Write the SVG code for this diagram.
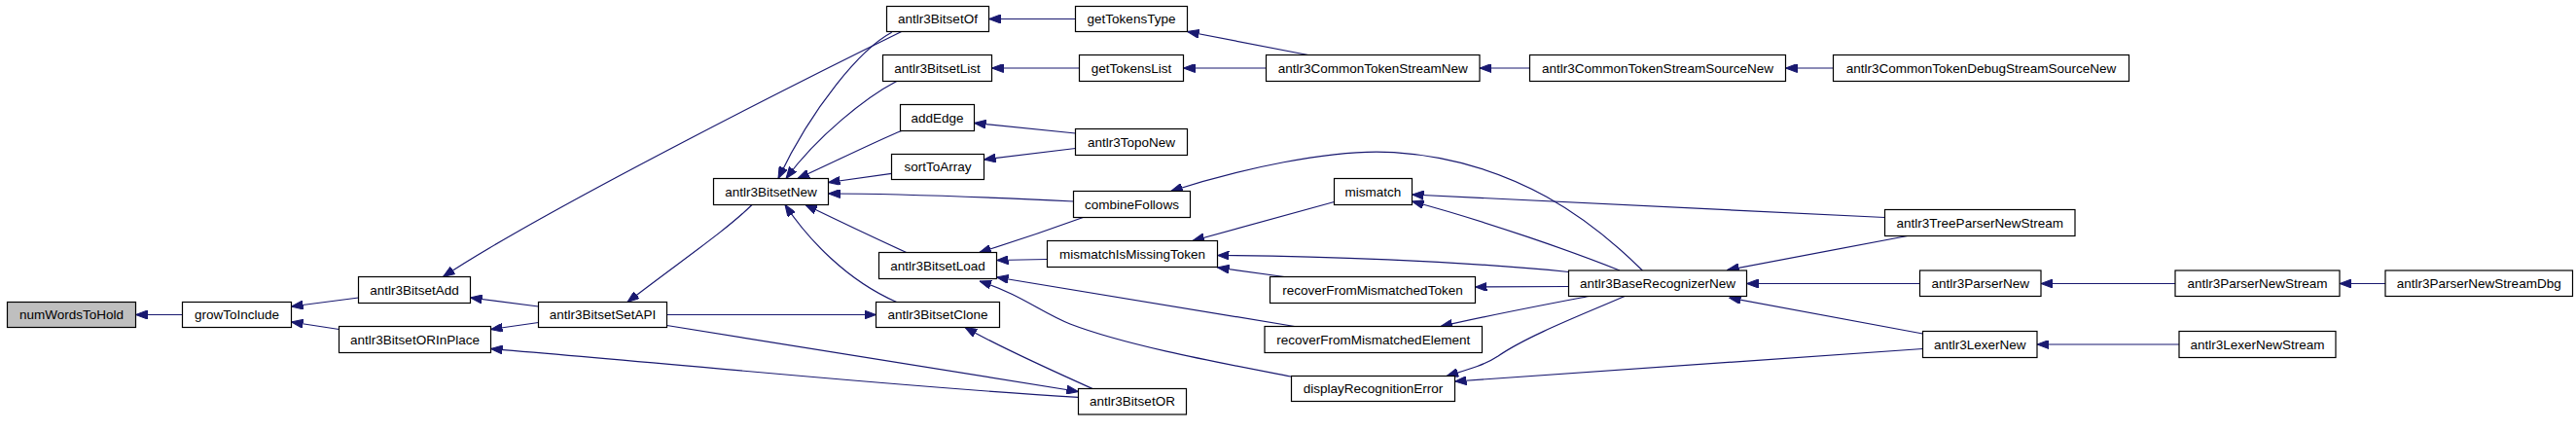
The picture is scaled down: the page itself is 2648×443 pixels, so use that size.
<svg xmlns="http://www.w3.org/2000/svg" width="2648" height="443" viewBox="0 0 2648 443">
<style>
.n rect{fill:#fff;stroke:#000;stroke-width:1.2}
.n.root rect{fill:#bfbfbf}
.n text{font-family:"Liberation Sans",Arial,Helvetica,sans-serif;font-size:13.5px;text-anchor:middle;fill:#000}
.e path{fill:none;stroke:#191970;stroke-width:1.2;marker-end:url(#ah)}
</style>
<defs>
<marker id="ah" viewBox="0 0 12 9" refX="12" refY="4.5" markerWidth="12" markerHeight="9" markerUnits="userSpaceOnUse" orient="auto">
<path d="M0,0 L12,4.5 L0,9 z" fill="#191970" stroke="#191970" stroke-width="1"/>
</marker>
</defs>
<rect width="2648" height="443" fill="#fff"/>
<g id="edges" class="e">
<path d="M187.5,323.5 L139.5,323.5"/>
<path d="M368.5,306 L299.5,315"/>
<path d="M348.5,338.5 L299.5,331"/>
<path d="M553.5,315 L483.5,306"/>
<path d="M553.5,331.5 L504.5,338.5"/>
<path d="M1108.5,408.3 C900,396 700,374 504.5,358.5"/>
<path d="M685.5,334.5 L1108.5,402.5"/>
<path d="M685.5,323.5 L900.5,323.5"/>
<path d="M1123,399.5 C1095,387 1030,358 992,336.5"/>
<path d="M773,210.5 C745,238 700,268 645,310.5"/>
<path d="M926.7,32.5 C850,70 560,215 455.5,284.5"/>
<path d="M916.7,33.3 C885,50 835,110 800,183.5"/>
<path d="M921.7,83.5 C890,100 840,140 808,183.5"/>
<path d="M926.7,134.5 C905,143 850,170 820,183.5"/>
<path d="M916.5,178.3 L851.5,187.5"/>
<path d="M1103.5,207 C1000,202 900,199 851.5,199"/>
<path d="M931.7,259.5 C900,245 860,226 828,210.5"/>
<path d="M921.7,310.5 C870,288 830,245 807,210.5"/>
<path d="M1105.5,19.5 L1016.5,19.5"/>
<path d="M1344.6,56.5 L1220.5,32.5"/>
<path d="M1109.5,70 L1019.5,70"/>
<path d="M1301.5,70 L1216.5,70"/>
<path d="M1572.5,70 L1521,70"/>
<path d="M1884.5,70 L1835.5,70"/>
<path d="M1105.5,137 L1001.5,126.5"/>
<path d="M1105.5,152.5 L1011.5,164"/>
<path d="M1688.3,278 C1640,230 1560,165 1433,156.7 C1370,152 1270,175 1203.6,196.5"/>
<path d="M1113.3,223.5 C1090,232 1050,246 1006.7,259.5"/>
<path d="M1076.5,266.5 L1024.5,267.5"/>
<path d="M1371.5,207.5 L1226,247.5"/>
<path d="M1612.5,279.5 C1500,268 1350,263 1251.5,262.5"/>
<path d="M1320,284.5 L1251.5,275"/>
<path d="M1330.8,335.5 L1024.5,285"/>
<path d="M1327,387 C1260,374 1160,356 1100,333 C1070,321 1050,303 1007,289"/>
<path d="M1665,278 C1620,260 1530,228 1451.5,207"/>
<path d="M1937.5,223.5 L1451.5,200"/>
<path d="M1612.5,294.5 L1516.5,295"/>
<path d="M1633.3,304.5 C1610,309 1540,322 1481,335.5"/>
<path d="M1670,304.5 C1630,322 1570,345 1540,366 C1525,376 1505,381 1487,386.5"/>
<path d="M1960.7,242.5 L1775.5,277.5"/>
<path d="M1973.5,291.5 L1795.5,291.5"/>
<path d="M1976.5,343 L1777.5,306"/>
<path d="M1976.5,358.5 L1495.5,392"/>
<path d="M2236,291.5 L2098,291.5"/>
<path d="M2452,291.5 L2405,291.5"/>
<path d="M2240,354 L2094,354"/>
</g>
<g id="numWordsToHold" class="n root"><rect x="7.5" y="310.5" width="132" height="26"/><text x="73.5" y="328.2">numWordsToHold</text></g>
<g id="growToInclude" class="n"><rect x="187.5" y="310.5" width="112" height="26"/><text x="243.5" y="328.2">growToInclude</text></g>
<g id="antlr3BitsetAdd" class="n"><rect x="368.5" y="284.5" width="115" height="27"/><text x="426" y="302.7">antlr3BitsetAdd</text></g>
<g id="antlr3BitsetORInPlace" class="n"><rect x="348.5" y="335.5" width="156" height="27"/><text x="426.5" y="353.7">antlr3BitsetORInPlace</text></g>
<g id="antlr3BitsetSetAPI" class="n"><rect x="553.5" y="310.5" width="132" height="26"/><text x="619.5" y="328.2">antlr3BitsetSetAPI</text></g>
<g id="antlr3BitsetNew" class="n"><rect x="733.5" y="183.5" width="118" height="27"/><text x="792.5" y="201.7">antlr3BitsetNew</text></g>
<g id="antlr3BitsetOf" class="n"><rect x="911.5" y="6.5" width="105" height="26"/><text x="964" y="24.2">antlr3BitsetOf</text></g>
<g id="antlr3BitsetList" class="n"><rect x="907.5" y="56.5" width="112" height="27"/><text x="963.5" y="74.7">antlr3BitsetList</text></g>
<g id="addEdge" class="n"><rect x="925.5" y="107.5" width="76" height="27"/><text x="963.5" y="125.7">addEdge</text></g>
<g id="sortToArray" class="n"><rect x="916.5" y="158.5" width="95" height="26"/><text x="964" y="176.2">sortToArray</text></g>
<g id="antlr3BitsetLoad" class="n"><rect x="903.5" y="259.5" width="121" height="27"/><text x="964" y="277.7">antlr3BitsetLoad</text></g>
<g id="antlr3BitsetClone" class="n"><rect x="900.5" y="310.5" width="127" height="26"/><text x="964" y="328.2">antlr3BitsetClone</text></g>
<g id="getTokensType" class="n"><rect x="1105.5" y="6.5" width="115" height="26"/><text x="1163" y="24.2">getTokensType</text></g>
<g id="getTokensList" class="n"><rect x="1109.5" y="56.5" width="107" height="27"/><text x="1163" y="74.7">getTokensList</text></g>
<g id="antlr3TopoNew" class="n"><rect x="1105.5" y="132.5" width="115" height="27"/><text x="1163" y="150.7">antlr3TopoNew</text></g>
<g id="combineFollows" class="n"><rect x="1103.5" y="196.5" width="120" height="27"/><text x="1163.5" y="214.7">combineFollows</text></g>
<g id="mismatchIsMissingToken" class="n"><rect x="1076.5" y="247.5" width="175" height="27"/><text x="1164" y="265.7">mismatchIsMissingToken</text></g>
<g id="antlr3BitsetOR" class="n"><rect x="1108.5" y="399.5" width="111" height="26.5"/><text x="1164" y="417.4">antlr3BitsetOR</text></g>
<g id="antlr3CommonTokenStreamNew" class="n"><rect x="1301.5" y="56.5" width="219.5" height="27"/><text x="1411.25" y="74.7">antlr3CommonTokenStreamNew</text></g>
<g id="mismatch" class="n"><rect x="1371.5" y="183.5" width="80" height="27"/><text x="1411.5" y="201.7">mismatch</text></g>
<g id="recoverFromMismatchedToken" class="n"><rect x="1305.5" y="284.5" width="211" height="27"/><text x="1411" y="302.7">recoverFromMismatchedToken</text></g>
<g id="recoverFromMismatchedElement" class="n"><rect x="1300" y="335.5" width="223.5" height="27"/><text x="1411.75" y="353.7">recoverFromMismatchedElement</text></g>
<g id="displayRecognitionError" class="n"><rect x="1327.5" y="386.5" width="168" height="26"/><text x="1411.5" y="404.2">displayRecognitionError</text></g>
<g id="antlr3CommonTokenStreamSourceNew" class="n"><rect x="1572.5" y="56.5" width="263" height="27"/><text x="1704" y="74.7">antlr3CommonTokenStreamSourceNew</text></g>
<g id="antlr3BaseRecognizerNew" class="n"><rect x="1612.5" y="278" width="183" height="26.5"/><text x="1704" y="296">antlr3BaseRecognizerNew</text></g>
<g id="antlr3CommonTokenDebugStreamSourceNew" class="n"><rect x="1884.5" y="56.5" width="304" height="27"/><text x="2036.5" y="74.7">antlr3CommonTokenDebugStreamSourceNew</text></g>
<g id="antlr3TreeParserNewStream" class="n"><rect x="1937.5" y="215.5" width="195.5" height="27"/><text x="2035.25" y="233.7">antlr3TreeParserNewStream</text></g>
<g id="antlr3ParserNew" class="n"><rect x="1973.5" y="278" width="124.5" height="26.5"/><text x="2035.75" y="296">antlr3ParserNew</text></g>
<g id="antlr3LexerNew" class="n"><rect x="1976.5" y="340.5" width="117.5" height="27"/><text x="2035.25" y="358.7">antlr3LexerNew</text></g>
<g id="antlr3ParserNewStream" class="n"><rect x="2236" y="278" width="169" height="26.5"/><text x="2320.5" y="296">antlr3ParserNewStream</text></g>
<g id="antlr3LexerNewStream" class="n"><rect x="2240" y="340.5" width="161" height="27"/><text x="2320.5" y="358.7">antlr3LexerNewStream</text></g>
<g id="antlr3ParserNewStreamDbg" class="n"><rect x="2452" y="278" width="192.5" height="26.5"/><text x="2548.25" y="296">antlr3ParserNewStreamDbg</text></g>
</svg>
